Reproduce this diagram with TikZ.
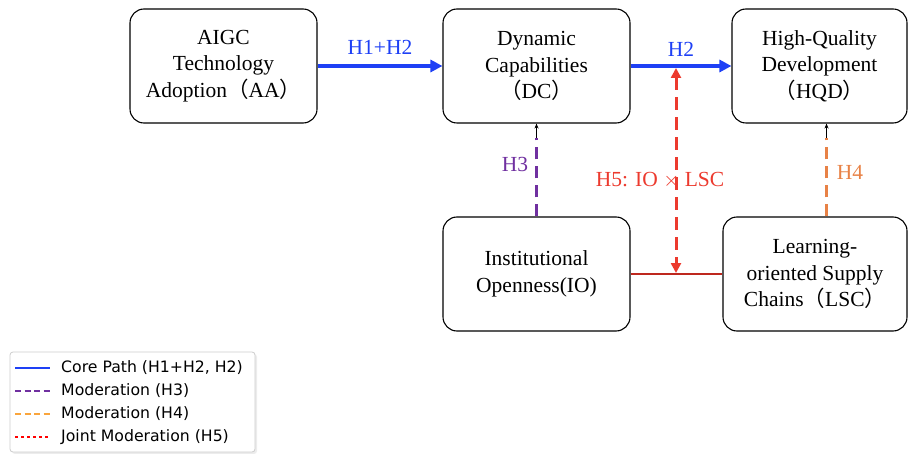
\documentclass[tikz,border=0pt]{standalone}
\usepackage{fontspec}
\setmainfont{Liberation Serif}
\newfontfamily\cjk{Noto Sans CJK SC}
\newfontfamily\legfont{DejaVu Sans}
\usetikzlibrary{arrows.meta,shadows}
\definecolor{coreblue}{RGB}{30,64,245}
\definecolor{modpurple}{RGB}{112,48,160}
\definecolor{modorange}{RGB}{232,130,70}
\definecolor{legorange}{RGB}{250,165,60}
\definecolor{jointred}{RGB}{236,58,46}
\definecolor{linkred}{RGB}{190,40,30}
\newcommand{\lp}{{\cjk （}}
\newcommand{\rp}{{\cjk ）}}
\begin{document}
\begin{tikzpicture}[x=1pt,y=-1pt,
  varbox/.style={draw,rounded corners=14pt,line width=1.1pt,align=center,
    font=\fontsize{21.5}{26.5}\selectfont,inner sep=0pt},
  corearrow/.style={coreblue,line width=3.5pt,-{Triangle[length=12pt,width=12pt]}},
  modline/.style={line width=3pt,dash pattern=on 12pt off 7pt},
  lbl/.style={font=\fontsize{21.5}{26}\selectfont},
  legtext/.style={font=\legfont\fontsize{15.7}{18}\selectfont,anchor=west,inner sep=0pt}]
\useasboundingbox (0,0) rectangle (909,454);
% boxes
\node[varbox,minimum width=187pt,minimum height=114pt] (AA) at (223.5,66) {AIGC\\Technology\\Adoption\lp AA\rp};
\node[varbox,minimum width=187pt,minimum height=114pt] (DC) at (536.5,66) {Dynamic\\Capabilities\\\lp DC\rp};
\node[varbox,minimum width=175pt,minimum height=114pt] (HQD) at (819.5,66) {High-Quality\\Development\\\lp HQD\rp};
\node[varbox,minimum width=187pt,minimum height=114pt] (IO) at (536.5,274) {Institutional\\Openness(IO)};
\node[varbox,minimum width=184pt,minimum height=114pt] (LSC) at (815,274) {Learning-\\oriented Supply\\Chains\lp LSC\rp};
% core paths
\draw[corearrow] (AA.east) -- (DC.west) node[midway,above=6pt,lbl,text=coreblue] {H1+H2};
\draw[corearrow] (DC.east) -- (HQD.west) node[midway,above=4pt,lbl,text=coreblue] {H2};
% moderation H3
\coordinate (h3b) at ([yshift=-14pt]DC.south);
\coordinate (h3a) at (h3b |- IO.north);
\draw[modline,modpurple] (h3a) -- (h3b);
\draw[line width=0.8pt,-{Stealth[length=5pt,width=4pt]}] (h3b) -- (DC.south);
\node[lbl,text=modpurple] (H3) at (515,164) {H3};
% moderation H4
\coordinate (h4b) at ([xshift=7pt,yshift=-14pt]HQD.south);
\coordinate (h4a) at (h4b |- LSC.north);
\draw[modline,modorange] (h4a) -- (h4b);
\draw[line width=0.8pt,-{Stealth[length=5pt,width=4pt]}] (h4b) -- ([xshift=7pt]HQD.south);
\node[lbl,text=modorange] (H4) at (850,172) {H4};
% IO - LSC link
\draw[linkred,line width=1.8pt] (IO.east) -- (LSC.west);
\coordinate (j1) at (676,273);
\coordinate (j2) at (676,68);
\draw[jointred,line width=3pt,dash pattern=on 13pt off 7pt,
  {Triangle[length=10pt,width=10pt]}-{Triangle[length=10pt,width=10pt]}] (j2) -- (j1);
\node[lbl,text=jointred] (H5) at (660,180) {H5: IO $\times$ LSC};
% legend
\node[draw=black!20,fill=white,rounded corners=3pt,line width=0.8pt,
  minimum width=245pt,minimum height=100pt,drop shadow={opacity=0.15,shadow xshift=2pt,shadow yshift=-2pt}] (leg) at (132.5,402) {};
\draw[coreblue,line width=2.5pt] (15,368) -- (50,368);
\node[legtext] (l1) at (61,368) {Core Path (H1+H2, H2)};
\draw[modpurple,line width=2.5pt,dash pattern=on 6pt off 3.5pt] (15,391) -- (50,391);
\node[legtext] (l2) at (61,391) {Moderation (H3)};
\draw[legorange,line width=2.5pt,dash pattern=on 6pt off 3.5pt] (15,414) -- (50,414);
\node[legtext] (l3) at (61,414) {Moderation (H4)};
\draw[red,line width=2.5pt,dash pattern=on 2.5pt off 3.5pt] (15,437) -- (50,437);
\node[legtext] (l4) at (61,437) {Joint Moderation (H5)};
\end{tikzpicture}
\end{document}
